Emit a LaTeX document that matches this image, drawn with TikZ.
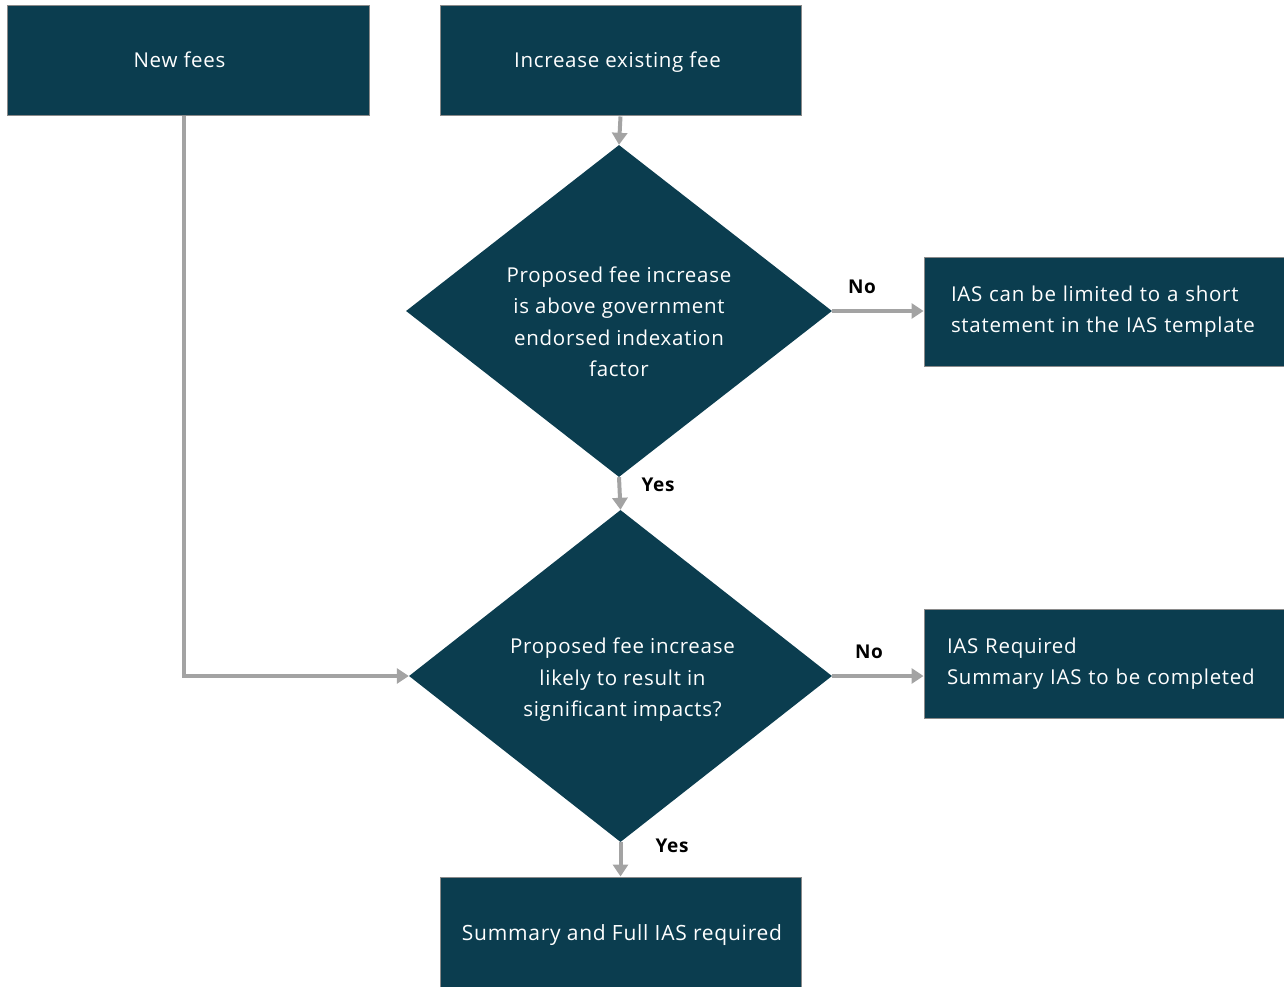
\documentclass[tikz,border=0pt]{standalone}
\usepackage{fontspec}
\setmainfont{Open Sans}[LetterSpace=3.5]
\usetikzlibrary{shapes.geometric,arrows.meta}
\definecolor{teal}{HTML}{0B3D4F}
\definecolor{arrowgray}{HTML}{A3A3A3}
\definecolor{edgegray}{HTML}{8A8A8A}
\tikzset{
  box/.style={draw=edgegray, line width=1pt, fill=teal, text=white, inner sep=0pt, text height=16pt, text depth=2pt, font=\fontsize{20.5}{31}\selectfont},
  decision/.style={shape=diamond, fill=teal, inner sep=0pt},
  dtext/.style={text=white, inner sep=0pt, align=center, font=\fontsize{20.5}{31.5}\selectfont},
  flow/.style={draw=arrowgray, line width=4pt, -{Triangle[length=12pt,width=15pt]}},
  lbl/.style={font=\bfseries\fontsize{19}{22}\selectfont, text=black},
}
\begin{document}
\begin{tikzpicture}[x=1pt,y=-1pt]
\useasboundingbox (0,0) rectangle (1284,987);
\node[box, minimum width=362, minimum height=110] (newfees) at (188.5,61) {New fees\hspace*{18pt}};
\node[box, minimum width=361, minimum height=110] (incr) at (620.5,61) {Increase existing fee\hspace*{6pt}};
\node[decision, minimum width=426, minimum height=332] (d1) at (619,311) {};
\node[dtext] (d1t) at ([yshift=-11pt]d1.center) {Proposed fee increase\\is above government\\endorsed indexation\\factor};
\node[decision, minimum width=423, minimum height=332] (d2) at (620.5,676) {};
\node[dtext] (d2t) at ([yshift=-4pt,xshift=2pt]d2.center) {Proposed fee increase\\likely to result in\\significant impacts?};
\node[box, minimum width=362, minimum height=109, align=left, text width=330, text height=, text depth=] (lim) at (1105,311.5) {\hspace*{11pt}IAS can be limited to a short\\\hspace*{11pt}statement in the IAS template};
\node[box, minimum width=362, minimum height=109, align=left, text width=330, text height=, text depth=] (req) at (1105,663.5) {\hspace*{7pt}IAS Required\\\hspace*{7pt}Summary IAS to be completed};
\node[box, minimum width=361, minimum height=112, font=\fontsize{21}{31}\selectfont] (full) at (620.5,933) {\hspace*{3pt}Summary and Full IAS required};
\coordinate (corner) at (184,676);
\draw[flow] (incr.south) -- (d1.north);
\draw[flow] (d1.south) -- (d2.north);
\draw[flow] (d2.south) -- (full.north);
\draw[flow] (d1.east) -- (lim.west |- d1.east);
\draw[flow] (d2.east) -- (req.west |- d2.east);
\draw[flow] (newfees.south -| corner) -- (corner) -- (d2.west);
\node[lbl] (no1) at (862,287) {No};
\node[lbl] (no2) at (869,652) {No};
\node[lbl] (yes1) at (658,485) {Yes};
\node[lbl] (yes2) at (672,846) {Yes};
\end{tikzpicture}
\end{document}
